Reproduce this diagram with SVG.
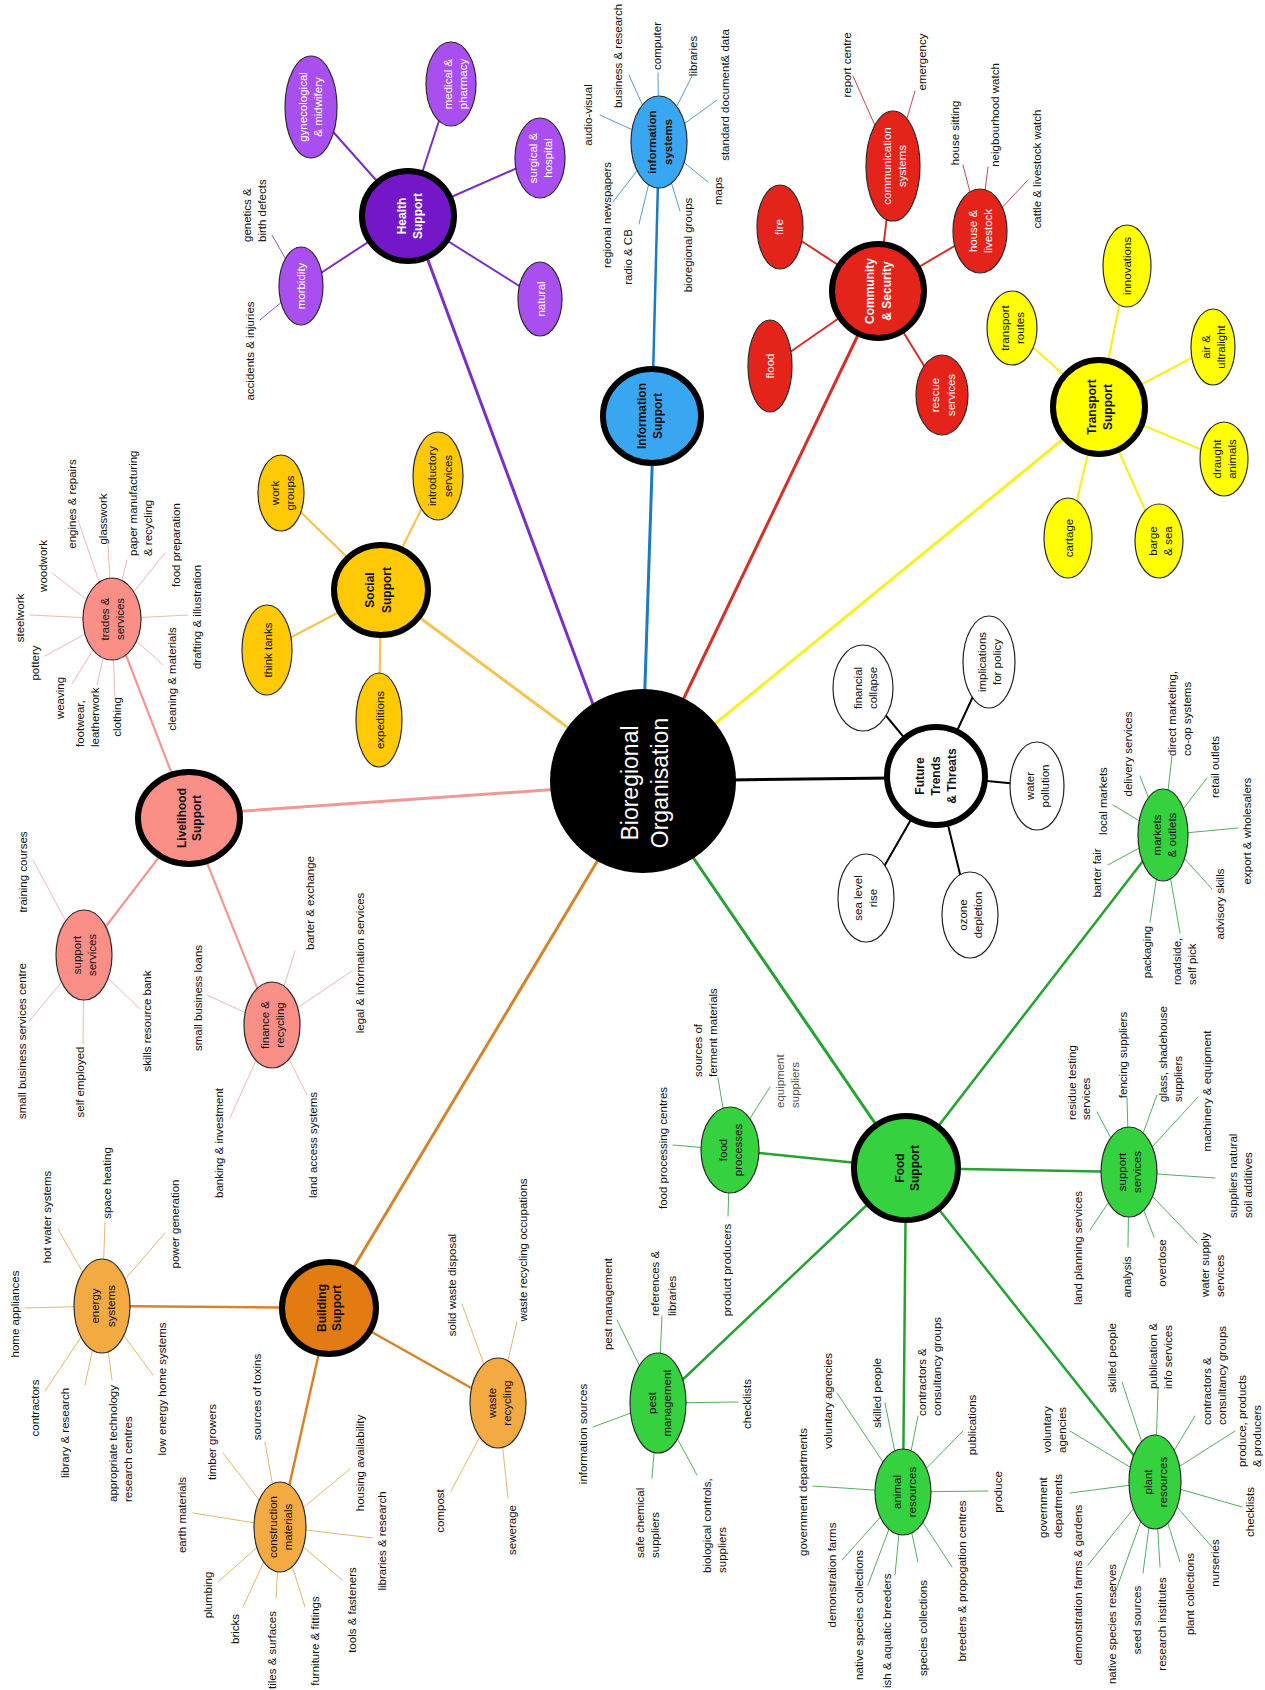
<svg xmlns="http://www.w3.org/2000/svg" width="1265" height="1690" viewBox="0 0 1265 1690">
<style>
text{font-family:"Liberation Sans",Arial,Helvetica,sans-serif;font-size:11.5px;fill:#111}
.m{text-anchor:middle}
.s{text-anchor:start}
.b{font-weight:bold;font-size:12px}
.w{fill:#fff}
.g{fill:#555}
.big{font-size:23px;fill:#fff}
.main{stroke:#000;stroke-width:6}
.sub{stroke:#2a2a2a;stroke-width:1.2}
.thin{stroke:#222;stroke-width:1.2}
.pu1{fill:#7417c9}.pu2{fill:#a94ff0}
.bl{fill:#38a6f0}
.re{fill:#e4241b}
.ye{fill:#ffff00}
.go{fill:#ffc906}
.pk{fill:#fa8f88}
.or1{fill:#e27c12}.or2{fill:#f3aa42}
.gr{fill:#36d13f}
.wh{fill:#fff}
#connectors line{fill:none;stroke-linecap:round}
.Lpu{stroke:#7a2fc4;stroke-width:3}.lpu{stroke:#7a2fc4;stroke-width:2}.spu{stroke:#8a55c0;stroke-width:1}
.Lbl{stroke:#1d7ac0;stroke-width:3}.sbl{stroke:#5a9cc8;stroke-width:1}
.Lre{stroke:#d4302a;stroke-width:3}.lre{stroke:#d4302a;stroke-width:2}.sre{stroke:#c24a4a;stroke-width:1}
.Lye{stroke:#f4f224;stroke-width:3}.lye{stroke:#f4f224;stroke-width:2.2}
.Lgo{stroke:#f2c552;stroke-width:3}.lgo{stroke:#f2c552;stroke-width:2.2}
.Lpk{stroke:#f09896;stroke-width:3}.lpk{stroke:#f09896;stroke-width:2.2}.spk{stroke:#efb8b4;stroke-width:1}
.Lor{stroke:#d4842a;stroke-width:3}.lor{stroke:#d4842a;stroke-width:2.5}.sor{stroke:#e3b66e;stroke-width:1}
.Lgr{stroke:#27a133;stroke-width:3}.lgr{stroke:#27a133;stroke-width:2.5}.sgr{stroke:#55ad5e;stroke-width:1}
.Lbk{stroke:#000;stroke-width:3}.lbk{stroke:#000;stroke-width:2}
</style>
<rect width="1265" height="1690" fill="#fff"/>
<g id="connectors">
<line class="Lpu" x1="416" y1="228" x2="604" y2="734"/>
<line class="Lbl" x1="653" y1="440" x2="644" y2="715"/>
<line class="Lre" x1="869" y1="312" x2="671" y2="725"/>
<line class="Lye" x1="1084" y1="422" x2="694" y2="741"/>
<line class="Lbk" x1="730" y1="780" x2="892" y2="778"/>
<line class="Lgr" x1="679" y1="837" x2="892" y2="1148"/>
<line class="Lor" x1="610" y1="840" x2="340" y2="1290"/>
<line class="Lpk" x1="575" y1="788" x2="215" y2="813"/>
<line class="Lgo" x1="590" y1="744" x2="400" y2="603"/>
<line class="lpu" x1="408" y1="216" x2="311" y2="107"/>
<line class="lpu" x1="408" y1="216" x2="451" y2="84"/>
<line class="lpu" x1="408" y1="216" x2="540" y2="158"/>
<line class="lpu" x1="408" y1="216" x2="540" y2="299"/>
<line class="lpu" x1="408" y1="216" x2="301" y2="286"/>
<line class="spu" x1="301" y1="286" x2="272" y2="235"/>
<line class="spu" x1="301" y1="286" x2="260" y2="320"/>
<line class="Lbl" x1="652" y1="416" x2="659" y2="142" style="stroke-width:2.5"/>
<line class="sbl" x1="659" y1="142" x2="600" y2="115"/>
<line class="sbl" x1="659" y1="142" x2="629" y2="75"/>
<line class="sbl" x1="659" y1="142" x2="658" y2="73"/>
<line class="sbl" x1="659" y1="142" x2="692" y2="76"/>
<line class="sbl" x1="659" y1="142" x2="717" y2="100"/>
<line class="sbl" x1="659" y1="142" x2="708" y2="182"/>
<line class="sbl" x1="659" y1="142" x2="680" y2="211"/>
<line class="sbl" x1="659" y1="142" x2="639" y2="224"/>
<line class="sbl" x1="659" y1="142" x2="613" y2="202"/>
<line class="lre" x1="878" y1="291" x2="893" y2="166"/>
<line class="lre" x1="878" y1="291" x2="980" y2="231"/>
<line class="lre" x1="878" y1="291" x2="942" y2="395"/>
<line class="lre" x1="878" y1="291" x2="780" y2="227"/>
<line class="lre" x1="878" y1="291" x2="770" y2="366"/>
<line class="sre" x1="893" y1="166" x2="853" y2="76"/>
<line class="sre" x1="893" y1="166" x2="915" y2="91"/>
<line class="sre" x1="980" y1="231" x2="963" y2="165"/>
<line class="sre" x1="980" y1="231" x2="988" y2="167"/>
<line class="sre" x1="980" y1="231" x2="1028" y2="180"/>
<line class="lye" x1="1099" y1="407" x2="1127" y2="266"/>
<line class="lye" x1="1099" y1="407" x2="1012" y2="328"/>
<line class="lye" x1="1099" y1="407" x2="1212" y2="347"/>
<line class="lye" x1="1099" y1="407" x2="1224" y2="459"/>
<line class="lye" x1="1099" y1="407" x2="1159" y2="541"/>
<line class="lye" x1="1099" y1="407" x2="1068" y2="538"/>
<line class="lgo" x1="381" y1="590" x2="281" y2="493"/>
<line class="lgo" x1="381" y1="590" x2="438" y2="476"/>
<line class="lgo" x1="381" y1="590" x2="267" y2="650"/>
<line class="lgo" x1="381" y1="590" x2="379" y2="720"/>
<line class="lpk" x1="189" y1="818" x2="112" y2="619"/>
<line class="lpk" x1="189" y1="818" x2="84" y2="955"/>
<line class="lpk" x1="189" y1="818" x2="272" y2="1025"/>
<line class="spk" x1="112" y1="619" x2="30" y2="615"/>
<line class="spk" x1="112" y1="619" x2="52" y2="573"/>
<line class="spk" x1="112" y1="619" x2="78" y2="520"/>
<line class="spk" x1="112" y1="619" x2="108" y2="545"/>
<line class="spk" x1="112" y1="619" x2="127" y2="560"/>
<line class="spk" x1="112" y1="619" x2="165" y2="553"/>
<line class="spk" x1="112" y1="619" x2="188" y2="615"/>
<line class="spk" x1="112" y1="619" x2="163" y2="665"/>
<line class="spk" x1="112" y1="619" x2="115" y2="700"/>
<line class="spk" x1="112" y1="619" x2="97" y2="685"/>
<line class="spk" x1="112" y1="619" x2="72" y2="684"/>
<line class="spk" x1="112" y1="619" x2="45" y2="656"/>
<line class="spk" x1="84" y1="955" x2="33" y2="860"/>
<line class="spk" x1="84" y1="955" x2="30" y2="1020"/>
<line class="spk" x1="84" y1="955" x2="83" y2="1044"/>
<line class="spk" x1="84" y1="955" x2="140" y2="1009"/>
<line class="spk" x1="272" y1="1025" x2="295" y2="951"/>
<line class="spk" x1="272" y1="1025" x2="352" y2="971"/>
<line class="spk" x1="272" y1="1025" x2="207" y2="995"/>
<line class="spk" x1="272" y1="1025" x2="230" y2="1118"/>
<line class="spk" x1="272" y1="1025" x2="307" y2="1095"/>
<line class="lor" x1="329" y1="1308" x2="102" y2="1306"/>
<line class="lor" x1="329" y1="1308" x2="280" y2="1527"/>
<line class="lor" x1="329" y1="1308" x2="498" y2="1403"/>
<line class="sor" x1="102" y1="1306" x2="58" y2="1229"/>
<line class="sor" x1="102" y1="1306" x2="105" y2="1222"/>
<line class="sor" x1="102" y1="1306" x2="165" y2="1233"/>
<line class="sor" x1="102" y1="1306" x2="25" y2="1308"/>
<line class="sor" x1="102" y1="1306" x2="45" y2="1391"/>
<line class="sor" x1="102" y1="1306" x2="85" y2="1385"/>
<line class="sor" x1="102" y1="1306" x2="112" y2="1380"/>
<line class="sor" x1="102" y1="1306" x2="153" y2="1375"/>
<line class="sor" x1="280" y1="1527" x2="193" y2="1513"/>
<line class="sor" x1="280" y1="1527" x2="223" y2="1453"/>
<line class="sor" x1="280" y1="1527" x2="265" y2="1442"/>
<line class="sor" x1="280" y1="1527" x2="350" y2="1469"/>
<line class="sor" x1="280" y1="1527" x2="373" y2="1538"/>
<line class="sor" x1="280" y1="1527" x2="342" y2="1580"/>
<line class="sor" x1="280" y1="1527" x2="305" y2="1607"/>
<line class="sor" x1="280" y1="1527" x2="276" y2="1598"/>
<line class="sor" x1="280" y1="1527" x2="243" y2="1607"/>
<line class="sor" x1="280" y1="1527" x2="218" y2="1582"/>
<line class="sor" x1="498" y1="1403" x2="462" y2="1304"/>
<line class="sor" x1="498" y1="1403" x2="517" y2="1322"/>
<line class="sor" x1="498" y1="1403" x2="451" y2="1491"/>
<line class="sor" x1="498" y1="1403" x2="508" y2="1498"/>
<line class="lgr" x1="906" y1="1168" x2="658" y2="1403"/>
<line class="lgr" x1="906" y1="1168" x2="730" y2="1150"/>
<line class="lgr" x1="906" y1="1168" x2="1129" y2="1172"/>
<line class="lgr" x1="906" y1="1168" x2="1163" y2="835"/>
<line class="lgr" x1="906" y1="1168" x2="903" y2="1492"/>
<line class="lgr" x1="906" y1="1168" x2="1155" y2="1482"/>
<line class="sgr" x1="658" y1="1403" x2="617" y2="1320"/>
<line class="sgr" x1="658" y1="1403" x2="662" y2="1316"/>
<line class="sgr" x1="658" y1="1403" x2="593" y2="1427"/>
<line class="sgr" x1="658" y1="1403" x2="738" y2="1402"/>
<line class="sgr" x1="658" y1="1403" x2="652" y2="1478"/>
<line class="sgr" x1="658" y1="1403" x2="697" y2="1475"/>
<line class="sgr" x1="730" y1="1150" x2="673" y2="1145"/>
<line class="sgr" x1="730" y1="1150" x2="718" y2="1078"/>
<line class="sgr" x1="730" y1="1150" x2="770" y2="1087"/>
<line class="sgr" x1="730" y1="1150" x2="728" y2="1216"/>
<line class="sgr" x1="1129" y1="1172" x2="1097" y2="1112"/>
<line class="sgr" x1="1129" y1="1172" x2="1127" y2="1098"/>
<line class="sgr" x1="1129" y1="1172" x2="1157" y2="1095"/>
<line class="sgr" x1="1129" y1="1172" x2="1198" y2="1097"/>
<line class="sgr" x1="1129" y1="1172" x2="1215" y2="1178"/>
<line class="sgr" x1="1129" y1="1172" x2="1090" y2="1230"/>
<line class="sgr" x1="1129" y1="1172" x2="1128" y2="1247"/>
<line class="sgr" x1="1129" y1="1172" x2="1154" y2="1237"/>
<line class="sgr" x1="1129" y1="1172" x2="1197" y2="1243"/>
<line class="sgr" x1="903" y1="1492" x2="813" y2="1486"/>
<line class="sgr" x1="903" y1="1492" x2="837" y2="1393"/>
<line class="sgr" x1="903" y1="1492" x2="885" y2="1403"/>
<line class="sgr" x1="903" y1="1492" x2="918" y2="1416"/>
<line class="sgr" x1="903" y1="1492" x2="963" y2="1431"/>
<line class="sgr" x1="903" y1="1492" x2="988" y2="1491"/>
<line class="sgr" x1="903" y1="1492" x2="952" y2="1567"/>
<line class="sgr" x1="903" y1="1492" x2="918" y2="1562"/>
<line class="sgr" x1="903" y1="1492" x2="895" y2="1575"/>
<line class="sgr" x1="903" y1="1492" x2="868" y2="1585"/>
<line class="sgr" x1="903" y1="1492" x2="842" y2="1560"/>
<line class="sgr" x1="1155" y1="1482" x2="1070" y2="1493"/>
<line class="sgr" x1="1155" y1="1482" x2="1070" y2="1431"/>
<line class="sgr" x1="1155" y1="1482" x2="1122" y2="1382"/>
<line class="sgr" x1="1155" y1="1482" x2="1158" y2="1389"/>
<line class="sgr" x1="1155" y1="1482" x2="1195" y2="1416"/>
<line class="sgr" x1="1155" y1="1482" x2="1235" y2="1431"/>
<line class="sgr" x1="1155" y1="1482" x2="1242" y2="1507"/>
<line class="sgr" x1="1155" y1="1482" x2="1212" y2="1547"/>
<line class="sgr" x1="1155" y1="1482" x2="1180" y2="1562"/>
<line class="sgr" x1="1155" y1="1482" x2="1160" y2="1567"/>
<line class="sgr" x1="1155" y1="1482" x2="1143" y2="1573"/>
<line class="sgr" x1="1155" y1="1482" x2="1115" y2="1593"/>
<line class="sgr" x1="1155" y1="1482" x2="1088" y2="1565"/>
<line class="sgr" x1="1163" y1="835" x2="1108" y2="865"/>
<line class="sgr" x1="1163" y1="835" x2="1113" y2="805"/>
<line class="sgr" x1="1163" y1="835" x2="1140" y2="776"/>
<line class="sgr" x1="1163" y1="835" x2="1172" y2="756"/>
<line class="sgr" x1="1163" y1="835" x2="1207" y2="778"/>
<line class="sgr" x1="1163" y1="835" x2="1238" y2="828"/>
<line class="sgr" x1="1163" y1="835" x2="1212" y2="889"/>
<line class="sgr" x1="1163" y1="835" x2="1180" y2="933"/>
<line class="sgr" x1="1163" y1="835" x2="1150" y2="922"/>
<line class="lbk" x1="936" y1="776" x2="863" y2="688"/>
<line class="lbk" x1="936" y1="776" x2="989" y2="662"/>
<line class="lbk" x1="936" y1="776" x2="1037" y2="786"/>
<line class="lbk" x1="936" y1="776" x2="866" y2="898"/>
<line class="lbk" x1="936" y1="776" x2="970" y2="915"/>
</g>

<g id="n-central">
<ellipse cx="643" cy="781" rx="93" ry="92" fill="#000"/>
<text class="m big" transform="translate(638 783) rotate(-90)"><tspan x="0">Bioregional</tspan><tspan x="0" dy="30">Organisation</tspan></text>
</g>

<g id="n-health">
<ellipse class="pu1 main" cx="408" cy="216" rx="46" ry="45"/>
<text class="m b w" transform="translate(406 216) rotate(-90)"><tspan x="0">Health</tspan><tspan x="0" dy="16">Support</tspan></text>
</g>
<g id="n-gyn"><ellipse class="pu2 sub" cx="311" cy="107" rx="26" ry="51"/>
<text class="m w" transform="translate(307 107) rotate(-90)"><tspan x="0">gynecological</tspan><tspan x="0" dy="15">&amp; midwifery</tspan></text></g>
<g id="n-medical"><ellipse class="pu2 sub" cx="451" cy="84" rx="25" ry="42"/>
<text class="m w" transform="translate(452 84) rotate(-90)"><tspan x="0">medical &amp;</tspan><tspan x="0" dy="15">pharmacy</tspan></text></g>
<g id="n-surgical"><ellipse class="pu2 sub" cx="540" cy="158" rx="25" ry="40"/>
<text class="m w" transform="translate(537 158) rotate(-90)"><tspan x="0">surgical &amp;</tspan><tspan x="0" dy="15">hospital</tspan></text></g>
<g id="n-natural"><ellipse class="pu2 sub" cx="540" cy="299" rx="22" ry="37"/>
<text class="m w" transform="translate(545 299) rotate(-90)">natural</text></g>
<g id="n-morbidity"><ellipse class="pu2 sub" cx="301" cy="286" rx="22" ry="39"/>
<text class="m w" transform="translate(305 286) rotate(-90)">morbidity</text>
<text class="s" transform="translate(251 242) rotate(-90)"><tspan x="0">genetics &amp;</tspan><tspan x="0" dy="15">birth defects</tspan></text>
<text class="m" transform="translate(254 351) rotate(-90)">accidents &amp; injuries</text></g>

<g id="n-info">
<ellipse class="bl main" cx="652" cy="416" rx="49" ry="47"/>
<text class="m b" transform="translate(646 416) rotate(-90)"><tspan x="0">Information</tspan><tspan x="0" dy="16">Support</tspan></text>
</g>
<g id="n-infosys"><ellipse class="bl sub" cx="659" cy="142" rx="28" ry="46"/>
<text class="m b" style="font-size:11.5px" transform="translate(656 142) rotate(-90)"><tspan x="0">information</tspan><tspan x="0" dy="16">systems</tspan></text>
<text class="m" transform="translate(592 115) rotate(-90)">audio-visual</text>
<text class="m" transform="translate(622 56) rotate(-90)">business &amp; research</text>
<text class="m" transform="translate(661 46) rotate(-90)">computer</text>
<text class="m" transform="translate(697 56) rotate(-90)">libraries</text>
<text class="m" transform="translate(729 95) rotate(-90)">standard document&amp; data</text>
<text class="m" transform="translate(722 191) rotate(-90)">maps</text>
<text class="m" transform="translate(692 245) rotate(-90)">bioregional groups</text>
<text class="m" transform="translate(632 257) rotate(-90)">radio &amp; CB</text>
<text class="m" transform="translate(611 215) rotate(-90)">regional newspapers</text></g>

<g id="n-community">
<ellipse class="re main" cx="878" cy="291" rx="46" ry="47"/>
<text class="m b w" transform="translate(874 291) rotate(-90)"><tspan x="0">Community</tspan><tspan x="0" dy="17">&amp; Security</tspan></text>
</g>
<g id="n-comm"><ellipse class="re sub" cx="893" cy="166" rx="27" ry="55"/>
<text class="m w" transform="translate(891 166) rotate(-90)"><tspan x="0">communication</tspan><tspan x="0" dy="15">systems</tspan></text>
<text class="m" transform="translate(851 65) rotate(-90)">report centre</text>
<text class="m" transform="translate(926 62) rotate(-90)">emergency</text></g>
<g id="n-house"><ellipse class="re sub" cx="980" cy="231" rx="27" ry="42"/>
<text class="m w" transform="translate(977 231) rotate(-90)"><tspan x="0">house &amp;</tspan><tspan x="0" dy="15">livestock</tspan></text>
<text class="m" transform="translate(959 133) rotate(-90)">house sitting</text>
<text class="m" transform="translate(999 115) rotate(-90)">neigbourhood watch</text>
<text class="m" transform="translate(1041 169) rotate(-90)">cattle &amp; livestock watch</text></g>
<g id="n-rescue"><ellipse class="re sub" cx="942" cy="395" rx="26" ry="40"/>
<text class="m w" transform="translate(939 395) rotate(-90)"><tspan x="0">rescue</tspan><tspan x="0" dy="16">services</tspan></text></g>
<g id="n-fire"><ellipse class="re sub" cx="780" cy="227" rx="23" ry="42"/>
<text class="m w" transform="translate(783 227) rotate(-90)">fire</text></g>
<g id="n-flood"><ellipse class="re sub" cx="770" cy="366" rx="22" ry="46"/>
<text class="m w" transform="translate(774 366) rotate(-90)">flood</text></g>

<g id="n-transport">
<ellipse class="ye main" cx="1099" cy="407" rx="46" ry="47"/>
<text class="m b" transform="translate(1096 407) rotate(-90)"><tspan x="0">Transport</tspan><tspan x="0" dy="16">Support</tspan></text>
</g>
<g id="n-innov"><ellipse class="ye sub" cx="1127" cy="266" rx="24" ry="41"/>
<text class="m" transform="translate(1131 266) rotate(-90)">innovations</text></g>
<g id="n-routes"><ellipse class="ye sub" cx="1012" cy="328" rx="25" ry="37"/>
<text class="m" transform="translate(1009 328) rotate(-90)"><tspan x="0">transport</tspan><tspan x="0" dy="15">routes</tspan></text></g>
<g id="n-air"><ellipse class="ye sub" cx="1213" cy="347" rx="22" ry="38"/>
<text class="m" transform="translate(1210 347) rotate(-90)"><tspan x="0">air &amp;</tspan><tspan x="0" dy="15">ultralight</tspan></text></g>
<g id="n-draught"><ellipse class="ye sub" cx="1224" cy="459" rx="24" ry="37"/>
<text class="m" transform="translate(1221 459) rotate(-90)"><tspan x="0">draught</tspan><tspan x="0" dy="15">animals</tspan></text></g>
<g id="n-barge"><ellipse class="ye sub" cx="1159" cy="541" rx="24" ry="37"/>
<text class="m" transform="translate(1157 541) rotate(-90)"><tspan x="0">barge</tspan><tspan x="0" dy="15">&amp; sea</tspan></text></g>
<g id="n-cartage"><ellipse class="ye sub" cx="1068" cy="538" rx="24" ry="40"/>
<text class="m" transform="translate(1073 538) rotate(-90)">cartage</text></g>

<g id="n-social">
<ellipse class="go main" cx="381" cy="590" rx="47" ry="45"/>
<text class="m b" transform="translate(374 590) rotate(-90)"><tspan x="0">Social</tspan><tspan x="0" dy="17">Support</tspan></text>
</g>
<g id="n-work"><ellipse class="go sub" cx="281" cy="493" rx="23" ry="38"/>
<text class="m" transform="translate(279 493) rotate(-90)"><tspan x="0">work</tspan><tspan x="0" dy="15">groups</tspan></text></g>
<g id="n-intro"><ellipse class="go sub" cx="438" cy="476" rx="25" ry="44"/>
<text class="m" transform="translate(436 476) rotate(-90)"><tspan x="0">introductory</tspan><tspan x="0" dy="16">services</tspan></text></g>
<g id="n-think"><ellipse class="go sub" cx="267" cy="650" rx="25" ry="45"/>
<text class="m" transform="translate(272 650) rotate(-90)">think tanks</text></g>
<g id="n-exped"><ellipse class="go sub" cx="379" cy="720" rx="23" ry="47"/>
<text class="m" transform="translate(384 720) rotate(-90)">expeditions</text></g>

<g id="n-livelihood">
<ellipse class="pk main" cx="189" cy="818" rx="51" ry="46"/>
<text class="m b" transform="translate(186 818) rotate(-90)"><tspan x="0">Livelihood</tspan><tspan x="0" dy="15">Support</tspan></text>
</g>
<g id="n-trades"><ellipse class="pk sub" cx="112" cy="619" rx="29" ry="41"/>
<text class="m" transform="translate(109 619) rotate(-90)"><tspan x="0">trades &amp;</tspan><tspan x="0" dy="15">services</tspan></text>
<text class="m" transform="translate(24 618) rotate(-90)">steelwork</text>
<text class="m" transform="translate(47 566) rotate(-90)">woodwork</text>
<text class="m" transform="translate(76 504) rotate(-90)">engines &amp; repairs</text>
<text class="m" transform="translate(107 519) rotate(-90)">glasswork</text>
<text class="s" transform="translate(137 556) rotate(-90)"><tspan x="0">paper manufacturing</tspan><tspan x="0" dy="15">&amp; recycling</tspan></text>
<text class="m" transform="translate(180 545) rotate(-90)">food preparation</text>
<text class="m" transform="translate(201 617) rotate(-90)">drafting &amp; illustration</text>
<text class="m" transform="translate(176 679) rotate(-90)">cleaning &amp; materials</text>
<text class="m" transform="translate(121 717) rotate(-90)">clothing</text>
<text class="s" transform="translate(84 747) rotate(-90)"><tspan x="0">footwear,</tspan><tspan x="0" dy="15">leatherwork</tspan></text>
<text class="m" transform="translate(64 698) rotate(-90)">weaving</text>
<text class="m" transform="translate(39 663) rotate(-90)">pottery</text></g>
<g id="n-lsupport"><ellipse class="pk sub" cx="84" cy="955" rx="28" ry="45"/>
<text class="m" transform="translate(81 955) rotate(-90)"><tspan x="0">support</tspan><tspan x="0" dy="15">services</tspan></text>
<text class="m" transform="translate(27 872) rotate(-90)">training courses</text>
<text class="m" transform="translate(26 1041) rotate(-90)">small business services centre</text>
<text class="m" transform="translate(84 1082) rotate(-90)">self employed</text>
<text class="m" transform="translate(151 1021) rotate(-90)">skills resource bank</text></g>
<g id="n-finance"><ellipse class="pk sub" cx="272" cy="1025" rx="28" ry="43"/>
<text class="m" transform="translate(269 1025) rotate(-90)"><tspan x="0">finance &amp;</tspan><tspan x="0" dy="15">recycling</tspan></text>
<text class="m" transform="translate(314 903) rotate(-90)">barter &amp; exchange</text>
<text class="m" transform="translate(364 963) rotate(-90)">legal &amp; information services</text>
<text class="m" transform="translate(202 998) rotate(-90)">small business loans</text>
<text class="m" transform="translate(223 1143) rotate(-90)">banking &amp; investment</text>
<text class="m" transform="translate(317 1145) rotate(-90)">land access systems</text></g>

<g id="n-building">
<ellipse class="or1 main" cx="329" cy="1308" rx="47" ry="46"/>
<text class="m b" transform="translate(326 1308) rotate(-90)"><tspan x="0">Building</tspan><tspan x="0" dy="15">Support</tspan></text>
</g>
<g id="n-energy"><ellipse class="or2 sub" cx="102" cy="1306" rx="28" ry="47"/>
<text class="m" transform="translate(99 1306) rotate(-90)"><tspan x="0">energy</tspan><tspan x="0" dy="16">systems</tspan></text>
<text class="m" transform="translate(51 1217) rotate(-90)">hot water systems</text>
<text class="m" transform="translate(111 1183) rotate(-90)">space heating</text>
<text class="m" transform="translate(179 1224) rotate(-90)">power generation</text>
<text class="m" transform="translate(19 1314) rotate(-90)">home appliances</text>
<text class="m" transform="translate(39 1408) rotate(-90)">contractors</text>
<text class="m" transform="translate(69 1433) rotate(-90)">library &amp; research</text>
<text class="s" transform="translate(117 1502) rotate(-90)"><tspan x="0">appropriate technology</tspan><tspan x="0" dy="15">research centres</tspan></text>
<text class="m" transform="translate(166 1389) rotate(-90)">low energy home systems</text></g>
<g id="n-construction"><ellipse class="or2 sub" cx="280" cy="1527" rx="26" ry="45"/>
<text class="m" transform="translate(277 1527) rotate(-90)"><tspan x="0">construction</tspan><tspan x="0" dy="15">materials</tspan></text>
<text class="m" transform="translate(186 1515) rotate(-90)">earth materials</text>
<text class="m" transform="translate(216 1442) rotate(-90)">timber growers</text>
<text class="m" transform="translate(261 1397) rotate(-90)">sources of toxins</text>
<text class="m" transform="translate(364 1463) rotate(-90)">housing availability</text>
<text class="m" transform="translate(386 1541) rotate(-90)">libraries &amp; research</text>
<text class="m" transform="translate(356 1610) rotate(-90)">tools &amp; fasteners</text>
<text class="m" transform="translate(319 1641) rotate(-90)">furniture &amp; fittings</text>
<text class="m" transform="translate(276 1650) rotate(-90)">tiles &amp; surfaces</text>
<text class="m" transform="translate(239 1629) rotate(-90)">bricks</text>
<text class="m" transform="translate(212 1595) rotate(-90)">plumbing</text></g>
<g id="n-waste"><ellipse class="or2 sub" cx="498" cy="1403" rx="28" ry="45"/>
<text class="m" transform="translate(496 1403) rotate(-90)"><tspan x="0">waste</tspan><tspan x="0" dy="15">recycling</tspan></text>
<text class="m" transform="translate(456 1285) rotate(-90)">solid waste disposal</text>
<text class="m" transform="translate(527 1250) rotate(-90)">waste recycling occupations</text>
<text class="m" transform="translate(444 1511) rotate(-90)">compost</text>
<text class="m" transform="translate(516 1530) rotate(-90)">sewerage</text></g>

<g id="n-food">
<ellipse class="gr main" cx="906" cy="1168" rx="52" ry="52"/>
<text class="m b" transform="translate(904 1168) rotate(-90)"><tspan x="0">Food</tspan><tspan x="0" dy="15">Support</tspan></text>
</g>
<g id="n-pest"><ellipse class="gr sub" cx="658" cy="1403" rx="28" ry="50"/>
<text class="m" transform="translate(656 1403) rotate(-90)"><tspan x="0">pest</tspan><tspan x="0" dy="15">management</tspan></text>
<text class="m" transform="translate(612 1304) rotate(-90)">pest management</text>
<text class="s" transform="translate(659 1316) rotate(-90)"><tspan x="0">references &amp;</tspan><tspan x="0" dy="17">libraries</tspan></text>
<text class="m" transform="translate(587 1434) rotate(-90)">information sources</text>
<text class="m" transform="translate(751 1404) rotate(-90)">checklists</text>
<text class="s" transform="translate(644 1558) rotate(-90)"><tspan x="0">safe chemical</tspan><tspan x="0" dy="15">suppliers</tspan></text>
<text class="s" transform="translate(711 1573) rotate(-90)"><tspan x="0">biological controls,</tspan><tspan x="0" dy="15">suppliers</tspan></text></g>
<g id="n-processes"><ellipse class="gr sub" cx="730" cy="1150" rx="29" ry="43"/>
<text class="m" transform="translate(727 1150) rotate(-90)"><tspan x="0">food</tspan><tspan x="0" dy="15">processes</tspan></text>
<text class="m" transform="translate(667 1148) rotate(-90)">food processing centres</text>
<text class="s" transform="translate(702 1077) rotate(-90)"><tspan x="0">sources of</tspan><tspan x="0" dy="15">ferment materials</tspan></text>
<text class="s g" transform="translate(784 1108) rotate(-90)"><tspan x="0">equipment</tspan><tspan x="0" dy="15">suppliers</tspan></text>
<text class="m" transform="translate(731 1270) rotate(-90)">product producers</text></g>
<g id="n-fsupport"><ellipse class="gr sub" cx="1129" cy="1172" rx="28" ry="45"/>
<text class="m" transform="translate(1126 1172) rotate(-90)"><tspan x="0">support</tspan><tspan x="0" dy="15">services</tspan></text>
<text class="s" transform="translate(1076 1120) rotate(-90)"><tspan x="0">residue testing</tspan><tspan x="0" dy="14">services</tspan></text>
<text class="m" transform="translate(1127 1055) rotate(-90)">fencing suppliers</text>
<text class="s" transform="translate(1167 1102) rotate(-90)"><tspan x="0">glass, shadehouse</tspan><tspan x="0" dy="15">suppliers</tspan></text>
<text class="m" transform="translate(1211 1091) rotate(-90)">machinery &amp; equipment</text>
<text class="s" transform="translate(1237 1218) rotate(-90)"><tspan x="0">suppliers natural</tspan><tspan x="0" dy="15">soil additives</tspan></text>
<text class="m" transform="translate(1082 1248) rotate(-90)">land planning services</text>
<text class="m" transform="translate(1131 1277) rotate(-90)">analysis</text>
<text class="m" transform="translate(1166 1263) rotate(-90)">overdose</text>
<text class="s" transform="translate(1209 1297) rotate(-90)"><tspan x="0">water supply</tspan><tspan x="0" dy="15">services</tspan></text></g>
<g id="n-animal"><ellipse class="gr sub" cx="903" cy="1492" rx="28" ry="43"/>
<text class="m" transform="translate(901 1492) rotate(-90)"><tspan x="0">animal</tspan><tspan x="0" dy="15">resources</tspan></text>
<text class="m" transform="translate(807 1492) rotate(-90)">government departments</text>
<text class="m" transform="translate(832 1401) rotate(-90)">voluntary agencies</text>
<text class="m" transform="translate(881 1393) rotate(-90)">skilled people</text>
<text class="s" transform="translate(926 1416) rotate(-90)"><tspan x="0">contractors &amp;</tspan><tspan x="0" dy="15">consultancy groups</tspan></text>
<text class="m" transform="translate(976 1425) rotate(-90)">publications</text>
<text class="m" transform="translate(1002 1492) rotate(-90)">produce</text>
<text class="m" transform="translate(966 1581) rotate(-90)">breeders &amp; propogation centres</text>
<text class="m" transform="translate(927 1628) rotate(-90)">species collections</text>
<text class="s" transform="translate(891 1688) rotate(-90)">ish &amp; aquatic breeders</text>
<text class="m" transform="translate(863 1615) rotate(-90)">native species collections</text>
<text class="m" transform="translate(836 1575) rotate(-90)">demonstration farms</text></g>
<g id="n-plant"><ellipse class="gr sub" cx="1155" cy="1482" rx="26" ry="47"/>
<text class="m" transform="translate(1152 1482) rotate(-90)"><tspan x="0">plant</tspan><tspan x="0" dy="15">resources</tspan></text>
<text class="s" transform="translate(1047 1538) rotate(-90)"><tspan x="0">government</tspan><tspan x="0" dy="15">departments</tspan></text>
<text class="s" transform="translate(1051 1453) rotate(-90)"><tspan x="0">voluntary</tspan><tspan x="0" dy="15">agencies</tspan></text>
<text class="m" transform="translate(1116 1358) rotate(-90)">skilled people</text>
<text class="s" transform="translate(1157 1389) rotate(-90)"><tspan x="0">publication &amp;</tspan><tspan x="0" dy="15">info services</tspan></text>
<text class="s" transform="translate(1211 1425) rotate(-90)"><tspan x="0">contractors &amp;</tspan><tspan x="0" dy="15">consultancy groups</tspan></text>
<text class="s" transform="translate(1246 1467) rotate(-90)"><tspan x="0">produce, products</tspan><tspan x="0" dy="15">&amp; producers</tspan></text>
<text class="m" transform="translate(1254 1512) rotate(-90)">checklists</text>
<text class="m" transform="translate(1219 1563) rotate(-90)">nurseries</text>
<text class="m" transform="translate(1194 1594) rotate(-90)">plant collections</text>
<text class="m" transform="translate(1166 1624) rotate(-90)">research institutes</text>
<text class="m" transform="translate(1141 1620) rotate(-90)">seed sources</text>
<text class="m" transform="translate(1116 1624) rotate(-90)">native species reserves</text>
<text class="m" transform="translate(1082 1585) rotate(-90)">demonstration farms &amp; gardens</text></g>
<g id="n-markets"><ellipse class="gr sub" cx="1163" cy="835" rx="25" ry="46"/>
<text class="m" transform="translate(1161 835) rotate(-90)"><tspan x="0">markets</tspan><tspan x="0" dy="15">&amp; outlets</tspan></text>
<text class="m" transform="translate(1101 873) rotate(-90)">barter fair</text>
<text class="m" transform="translate(1107 801) rotate(-90)">local markets</text>
<text class="m" transform="translate(1132 754) rotate(-90)">delivery services</text>
<text class="s" transform="translate(1176 756) rotate(-90)"><tspan x="0">direct marketing,</tspan><tspan x="0" dy="15">co-op systems</tspan></text>
<text class="m" transform="translate(1219 767) rotate(-90)">retail outlets</text>
<text class="m" transform="translate(1251 831) rotate(-90)">export &amp; wholesalers</text>
<text class="m" transform="translate(1224 904) rotate(-90)">advisory skills</text>
<text class="s" transform="translate(1181 985) rotate(-90)"><tspan x="0">roadside,</tspan><tspan x="0" dy="15">self pick</tspan></text>
<text class="m" transform="translate(1151 952) rotate(-90)">packaging</text></g>

<g id="n-future">
<ellipse class="wh main" cx="936" cy="776" rx="49" ry="49"/>
<text class="m b" transform="translate(924 776) rotate(-90)"><tspan x="0">Future</tspan><tspan x="0" dy="16">Trends</tspan><tspan x="0" dy="16">&amp; Threats</tspan></text>
</g>
<g id="n-financial"><ellipse class="wh thin" cx="863" cy="688" rx="30" ry="43"/>
<text class="m" transform="translate(862 688) rotate(-90)"><tspan x="0">financial</tspan><tspan x="0" dy="15">collapse</tspan></text></g>
<g id="n-implications"><ellipse class="wh thin" cx="989" cy="662" rx="26" ry="46"/>
<text class="m" transform="translate(986 662) rotate(-90)"><tspan x="0">implications</tspan><tspan x="0" dy="15">for policy</tspan></text></g>
<g id="n-water"><ellipse class="wh thin" cx="1037" cy="786" rx="27" ry="44"/>
<text class="m" transform="translate(1034 786) rotate(-90)"><tspan x="0">water</tspan><tspan x="0" dy="15">pollution</tspan></text></g>
<g id="n-sea"><ellipse class="wh thin" cx="866" cy="898" rx="28" ry="44"/>
<text class="m" transform="translate(862 898) rotate(-90)"><tspan x="0">sea level</tspan><tspan x="0" dy="15">rise</tspan></text></g>
<g id="n-ozone"><ellipse class="wh thin" cx="970" cy="915" rx="28" ry="43"/>
<text class="m" transform="translate(967 915) rotate(-90)"><tspan x="0">ozone</tspan><tspan x="0" dy="15">depletion</tspan></text></g>
</svg>
